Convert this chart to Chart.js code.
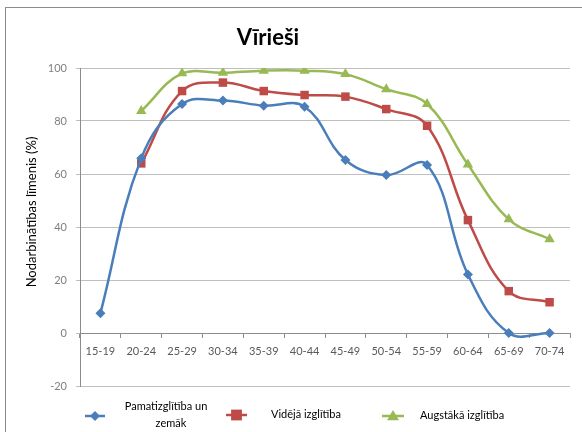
<!DOCTYPE html>
<html>
<head>
<meta charset="utf-8">
<script src="https://cdn.jsdelivr.net/npm/chart.js@4/dist/chart.umd.min.js"></script>
<style>
  html, body { margin: 0; padding: 0; background: #fff; overflow: hidden; }
  #wrap { position: relative; width: 582px; height: 432px; }
  #frame { position: absolute; left: 5px; top: 7px; width: 600px; height: 500px; border: 1px solid #8c8c8c; pointer-events: none; }
  canvas { position: absolute; left: 0; top: 0; }
</style>
</head>
<body>
<div id="wrap">
  <canvas id="c" width="582" height="432"></canvas>
  <div id="frame"></div>
</div>
<script>
const categories = ['15-19','20-24','25-29','30-34','35-39','40-44','45-49','50-54','55-59','60-64','65-69','70-74'];
const seriesNames = [['Pamatizglītība un', 'zemāk'], ['Vidējā izglītība'], ['Augstākā izglītība']];
const basicEdu = [7.5, 65.9, 86.4, 87.7, 85.8, 85.4, 65.3, 59.6, 63.4, 22.1, 0, 0];
const secondaryEdu = [null, 64.0, 91.3, 94.5, 91.3, 89.8, 89.2, 84.5, 78.2, 42.6, 15.8, 11.6];
const higherEdu = [null, 83.8, 98.0, 98.2, 99.0, 99.0, 97.7, 92.0, 86.4, 63.6, 42.9, 35.4];
const yMin = -20, yMax = 100, yStep = 20;
const chartTitle = 'Vīrieši';
const yTitle = 'Nodarbinātības līmenis (%)';

const colors = ['#4a7ebb', '#be4b48', '#98b954'];
const styles = ['rectRot', 'rect', 'triangle'];
const radii = [5, 6, 6];
const FONT = 'Lato, "Liberation Sans", sans-serif';

function drawMarker(ctx, style, x, y, r, color) {
  ctx.save();
  ctx.fillStyle = color;
  ctx.beginPath();
  if (style === 'rectRot') {
    ctx.moveTo(x, y - r); ctx.lineTo(x + r, y); ctx.lineTo(x, y + r); ctx.lineTo(x - r, y);
  } else if (style === 'rect') {
    const s = r * 0.9;
    ctx.rect(x - s, y - s, 2 * s, 2 * s);
  } else {
    ctx.moveTo(x, y - r); ctx.lineTo(x + r, y + r * 0.7); ctx.lineTo(x - r, y + r * 0.7);
  }
  ctx.closePath();
  ctx.fill();
  ctx.restore();
}

const textPlugin = {
  id: 'customText',
  afterDraw(chart) {
    const ctx = chart.ctx;
    ctx.save();
    // chart title
    ctx.font = 'bold 22px ' + FONT;
    ctx.fillStyle = '#000';
    ctx.textAlign = 'center';
    ctx.textBaseline = 'middle';
    ctx.fillText(chartTitle, 268, 38);
    // y axis title
    ctx.save();
    ctx.translate(32, 212);
    ctx.rotate(-Math.PI / 2);
    ctx.font = '13px ' + FONT;
    ctx.fillText(yTitle, 0, 0);
    ctx.restore();
    // legend
    const items = [
      { x0: 85, x1: 105, y: 416, tx: 166, align: 'center' },
      { x0: 226, x1: 247, y: 415, tx: 271, align: 'left' },
      { x0: 382, x1: 404, y: 416, tx: 420, align: 'left' }
    ];
    ctx.font = '11px ' + FONT;
    ctx.fillStyle = '#000';
    ctx.textBaseline = 'middle';
    items.forEach((it, i) => {
      ctx.strokeStyle = colors[i];
      ctx.lineWidth = 2.5;
      ctx.beginPath();
      ctx.moveTo(it.x0, it.y);
      ctx.lineTo(it.x1, it.y);
      ctx.stroke();
      drawMarker(ctx, styles[i], (it.x0 + it.x1) / 2, it.y, radii[i], colors[i]);
      ctx.textAlign = it.align;
      const lines = seriesNames[i];
      if (lines.length === 2) {
        ctx.fillText(lines[0], it.tx, 406);
        ctx.fillText(lines[1], it.tx + 5, 423);
      } else {
        ctx.fillText(lines[0], it.tx, it.y - 1);
      }
    });
    ctx.restore();
  }
};

function mkDataset(label, data, i) {
  return {
    label: label,
    data: data,
    borderColor: colors[i],
    backgroundColor: colors[i],
    borderWidth: 2.5,
    pointStyle: styles[i],
    pointRadius: radii[i],
    pointBackgroundColor: colors[i],
    pointBorderColor: colors[i],
    pointBorderWidth: 0,
    tension: 0.4,
    fill: false,
    spanGaps: false
  };
}

new Chart(document.getElementById('c'), {
  type: 'line',
  data: {
    labels: categories,
    datasets: [
      mkDataset(seriesNames[0].join(' '), basicEdu, 0),
      mkDataset(seriesNames[1][0], secondaryEdu, 1),
      mkDataset(seriesNames[2][0], higherEdu, 2)
    ]
  },
  options: {
    responsive: false,
    devicePixelRatio: 1,
    animation: false,
    layout: { padding: { left: 0, right: 12, top: 68, bottom: 46 } },
    plugins: {
      legend: { display: false },
      tooltip: { enabled: false },
      title: { display: false }
    },
    scales: {
      x: {
        position: { y: 0 },
        offset: true,
        grid: {
          offset: true,
          drawOnChartArea: false,
          drawTicks: true,
          tickLength: 4,
          color: '#8c8c8c'
        },
        border: { display: true, color: '#8c8c8c', width: 1 },
        ticks: {
          color: '#595959',
          font: { family: FONT, size: 11 },
          padding: 8,
          maxRotation: 0,
          autoSkip: false
        }
      },
      y: {
        min: yMin,
        max: yMax,
        afterFit(scale) { scale.width = 80; },
        ticks: {
          stepSize: yStep,
          color: '#7f7f7f',
          font: { family: FONT, size: 11 },
          padding: 9
        },
        grid: {
          color: '#bfbfbf',
          lineWidth: 1,
          drawTicks: true,
          tickLength: 4
        },
        border: { display: true, color: '#8c8c8c', width: 1 },
        title: { display: false }
      }
    }
  },
  plugins: [textPlugin]
});
</script>
</body>
</html>
